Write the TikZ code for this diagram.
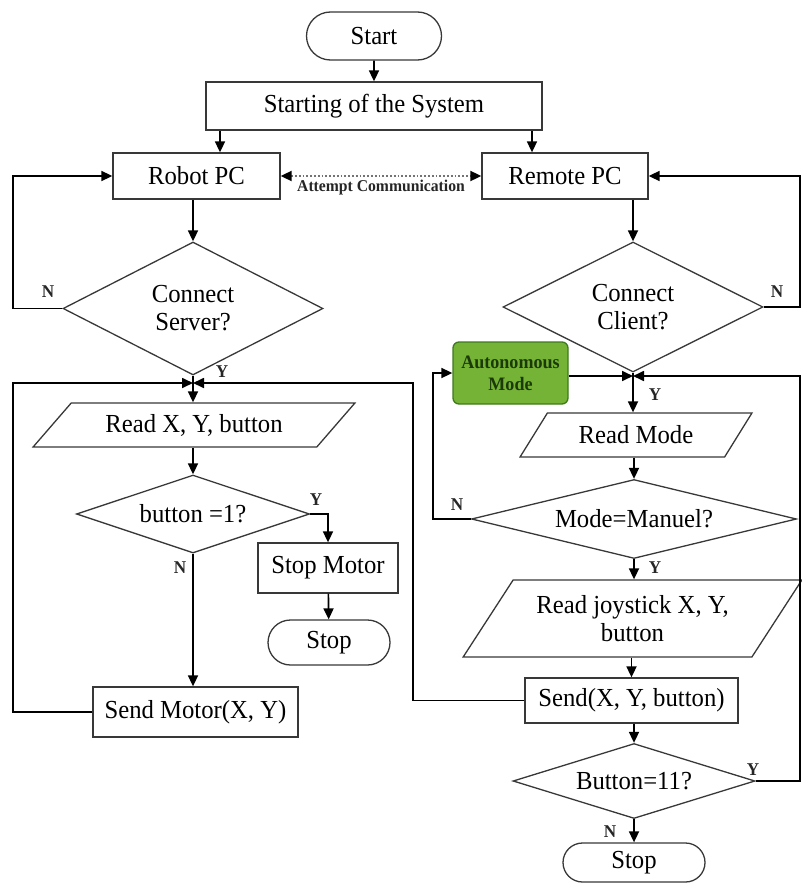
\documentclass[tikz,border=0pt]{standalone}
\usepackage{fontspec}
\setmainfont{Liberation Serif}[FakeStretch=0.95]
\usetikzlibrary{shapes.geometric,shapes.misc,arrows.meta}
\definecolor{boxline}{HTML}{383838}
\definecolor{autofill}{HTML}{74B336}
\definecolor{autoline}{HTML}{3F7A1E}
\definecolor{autotext}{HTML}{1B3A08}
\begin{document}
\begin{tikzpicture}[x=1pt,y=-1pt,
  base/.style={draw=boxline, line width=1.3pt, text=black, font=\fontsize{26}{28}\selectfont, inner sep=0pt, align=center},
  proc/.style={base, rectangle},
  term/.style={base, rounded rectangle},
  dec/.style={base, diamond, shape aspect=#1},
  io/.style={base, trapezium, trapezium stretches=true, trapezium left angle=#1, trapezium right angle=180-#1},
  autobox/.style={base, draw=autoline, fill=autofill, text=autotext, rounded corners=6pt, font=\bfseries\fontsize{19}{22}\selectfont},
  arr/.style={draw=black, line width=1.7pt, -{Triangle[length=11pt,width=10pt]}},
  conn/.style={draw=black, line width=1.7pt},
  lbl/.style={font=\bfseries\fontsize{18}{20}\selectfont, text=black!85, inner sep=0pt}
]
\useasboundingbox (0,0) rectangle (802,883);

% nodes
\node[term, minimum width=135pt, minimum height=48pt] (start) at (374,36) {Start};
\node[proc, minimum width=336pt, minimum height=48pt] (sys) at (374,106) {Starting of the System};
\node[proc, minimum width=167pt, minimum height=46pt] (robot) at (196.5,176) {Robot PC};
\node[proc, minimum width=166pt, minimum height=46pt] (remote) at (565,176) {Remote PC};
\node[dec=1.95, minimum width=260pt, minimum height=133pt] (cs) at (193,308.5) {Connect\\Server?};
\node[dec=2, minimum width=260pt, minimum height=130pt] (cc) at (633,307) {Connect\\Client?};
\node[autobox, minimum width=115pt, minimum height=62pt] (auto) at (510.5,373) {Autonomous\\Mode};
\node[io=38.7, minimum width=322pt, minimum height=44pt] (rxy) at (194,425) {Read X, Y, button};
\node[dec=3, minimum width=233pt, minimum height=78pt] (b1) at (193,514) {button =1?};
\node[proc, minimum width=140pt, minimum height=50pt] (smot) at (328,568) {Stop Motor};
\node[term, minimum width=122pt, minimum height=45pt] (stop1) at (329,642.5) {Stop};
\node[proc, minimum width=205pt, minimum height=50pt] (sendm) at (195.5,712) {Send Motor(X, Y)};
\node[io=46, minimum width=232pt, minimum height=44pt] (rmode) at (636,435) {Read Mode};
\node[dec=4.1, minimum width=325pt, minimum height=79pt] (mm) at (634,519) {Mode=Manuel?};
\node[io=49, minimum width=339pt, minimum height=77pt] (rjoy) at (632.5,618.5) {Read joystick X, Y,\\button};
\node[proc, minimum width=213pt, minimum height=45pt] (send) at (631.5,700.5) {Send(X, Y, button)};
\node[dec=3.2, minimum width=242pt, minimum height=75pt] (b11) at (634,781) {Button=11?};
\node[term, minimum width=142pt, minimum height=39pt] (stop2) at (634,862.5) {Stop};

\node[font=\bfseries\fontsize{16.5}{18}\selectfont, text=black!85, inner sep=0pt] (att) at (381,188) {Attempt Communication};

% helper coordinates
\coordinate (jL) at (193,383);
\coordinate (jR) at (633,376);
\coordinate (xa) at (220,0);
\coordinate (xb) at (532,0);
\coordinate (lx) at (13,0);
\coordinate (rx) at (800,0);
\coordinate (mx) at (413,0);
\coordinate (ax) at (433,0);

% connectors
\draw[arr] (start) -- (sys);
\draw[arr] (sys.south -| xa) -- (robot.north -| xa);
\draw[arr] (sys.south -| xb) -- (remote.north -| xb);
\draw[dotted, line width=1.8pt, draw=black!55, {Triangle[length=11pt,width=10pt,color=black]}-{Triangle[length=11pt,width=10pt,color=black]}] (robot.east) -- (remote.west);
\draw[arr] (robot.south -| cs.north) -- (cs.north);
\draw[arr] (remote.south -| cc.north) -- (cc.north);
\draw[arr] (cs.west) -- (cs.west -| lx) |- (robot.west);
\draw[arr] (cc.east) -- (cc.east -| rx) |- (remote.east);

\draw[conn] (cs.south) -- (jL);
\draw[arr] (sendm.west) -- (sendm.west -| lx) |- (jL);
\draw[arr] (send.west) -- (send.west -| mx) |- (jL);
\draw[arr] (jL) -- (jL |- rxy.north);
\draw[arr] (rxy.south -| b1.north) -- (b1.north);
\draw[arr] (b1.east) -| (smot.north);
\draw[arr] (smot) -- (stop1);
\draw[arr] (b1.south) -- (b1.south |- sendm.north);

\draw[conn] (cc.south) -- (jR);
\draw[arr] (auto.east |- jR) -- (jR);
\draw[arr] (b11.east) -- (b11.east -| rx) |- (jR);
\draw[arr] (jR) -- (jR |- rmode.north);
\draw[arr] (rmode.south -| mm.north) -- (mm.north);
\draw[arr] (mm.west) -- (mm.west -| ax) |- (auto.west);
\draw[arr] (mm.south) -- (mm.south |- rjoy.north);
\draw[arr] (rjoy.south -| send.north) -- (send.north);
\draw[arr] (send.south -| b11.north) -- (b11.north);
\draw[arr] (b11.south) -- (stop2);

% branch labels
\node[lbl] (n1) at (48,292) {N};
\node[lbl] (y1) at (222,372) {Y};
\node[lbl] (y2) at (316,500) {Y};
\node[lbl] (n2) at (180,568) {N};
\node[lbl] (n3) at (777,292) {N};
\node[lbl] (y3) at (655,395) {Y};
\node[lbl] (n4) at (457,505) {N};
\node[lbl] (y4) at (655,568) {Y};
\node[lbl] (y5) at (753,770) {Y};
\node[lbl] (n5) at (610,832) {N};
\end{tikzpicture}
\end{document}
